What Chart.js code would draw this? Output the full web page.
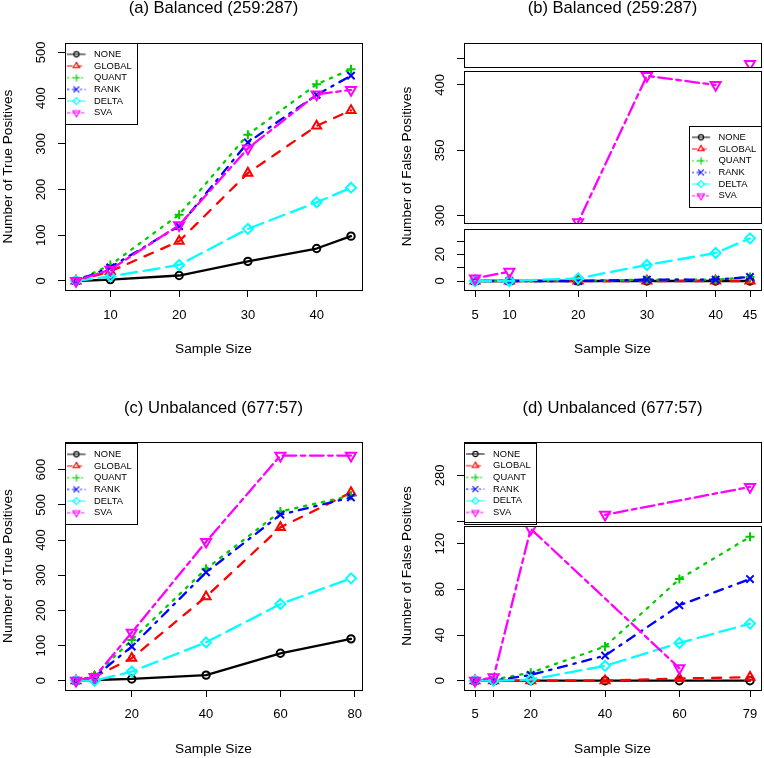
<!DOCTYPE html>
<html>
<head>
<meta charset="utf-8">
<title>True and false positives by sample size</title>
<script src="https://cdn.jsdelivr.net/npm/chart.js@4.4.1/dist/chart.umd.min.js"></script>
<style>
  body { margin: 0; background: #fff; }
  #page { position: relative; width: 764px; height: 758px; }
  #page canvas { position: absolute; }
</style>
</head>
<body>
<div id="page">
  <canvas id="panelA" width="382" height="379" style="left:0;top:0"></canvas>
  <canvas id="panelB" width="382" height="379" style="left:382px;top:0"></canvas>
  <canvas id="panelC" width="382" height="379" style="left:0;top:379px"></canvas>
  <canvas id="panelD" width="382" height="379" style="left:382px;top:379px"></canvas>
</div>
<script>
const methods = ['NONE', 'GLOBAL', 'QUANT', 'RANK', 'DELTA', 'SVA'];

const sizesBalanced = [5, 10, 20, 30, 40, 45];
const sizesUnbalanced = [5, 10, 20, 40, 60, 79];

// one row per method, same order as `methods`
const tpBalanced = [
  [0, 3, 12, 43, 71, 98],
  [0, 21, 87, 236, 339, 373],
  [0, 35, 145, 320, 430, 463],
  [0, 30, 120, 303, 407, 449],
  [0, 10, 35, 114, 172, 204],
  [0, 25, 122, 290, 408, 418]
];
const fpBalanced = [
  [0, 0, 0, 0, 0, 0],
  [0, 0, 0, 0, 0, 0],
  [0, 0, 0, 1, 1, 3],
  [0, 0, 0, 1, 1, 3],
  [0, 0, 2, 12, 21, 32],
  [2, 7, 295, 407, 400, 440]
];
const tpUnbalanced = [
  [0, 2, 5, 16, 78, 119],
  [0, 11, 64, 239, 436, 535],
  [0, 14, 116, 318, 481, 526],
  [0, 11, 97, 308, 472, 521],
  [0, 0, 26, 109, 218, 291],
  [0, 11, 137, 395, 640, 640]
];
const fpUnbalanced = [
  [0, 0, 0, 0, 0, 0],
  [0, 0, 0, 0, 2, 3],
  [0, 1, 7, 30, 89, 126],
  [0, 0, 5, 22, 66, 89],
  [0, 0, 1, 13, 33, 50],
  [0, 3, 133, 246, 11, 270]
];

const xTicksA = [10, 20, 30, 40];
const xTicksB = [5, 10, 20, 30, 40, 45];
const xTicksC = [20, 40, 60, 80];
const xTicksD = [5, 10, 20, 40, 60, 79];
const xLabelsD = ['5', '', '20', '40', '60', '79'];

const yTicksA = [[0, 100, 200, 300, 400, 500]];
const yLabelsA = [['0', '100', '200', '300', '400', '500']];
const yTicksC = [[0, 100, 200, 300, 400, 500, 600]];
const yLabelsC = [['0', '100', '200', '300', '400', '500', '600']];
// broken axes: top segment first
const yTicksB = [[450], [300, 350, 400], [0, 10, 20, 30]];
const yLabelsB = [[''], ['300', '350', '400'], ['0', '', '20', '']];
const yTicksD = [[240, 280], [0, 40, 80, 120]];
const yLabelsD = [['', '280'], ['0', '40', '80', '120']];

// R default palette, lty 1:6, pch 1:6
const colors = ['#000000', '#FF0000', '#00CD00', '#0000FF', '#00FFFF', '#FF00FF'];
const dashes = [[], [4, 4], [1, 3], [1, 3, 4, 3], [7, 3], [2, 2, 6, 2]];
const shapes = ['circle', 'triangle', 'cross', 'crossRot', 'rectRot', 'triangle'];
const rotations = [0, 0, 0, 0, 0, 180];
const radii = [3.7, 5.2, 4.5, 5.2, 5, 5.8];

const family = "'Liberation Sans', Arial, Helvetica, sans-serif";
const titleFont = {family, size: 16.6, lineHeight: 1, weight: 'normal'};
const labelFont = {family, size: 13.7};
const tickFont = {family, size: 13};
const legendFont = {family, size: 9.4};
Chart.defaults.font.family = family;

// plot-area bands (px from plot top) and the values at their edges
const segA = [{top: 0, bottom: 247, lo: -19.7, hi: 520.4}];
const segB = [
  {top: 0, bottom: 24.3, lo: 434.2, hi: 476.8},
  {top: 28, bottom: 180.3, lo: 294.2, hi: 410.7},
  {top: 186, bottom: 247, lo: -6.75, hi: 39}
];
const segC = [{top: 0, bottom: 248, lo: -26.4, hi: 678.7}];
const segD = [
  {top: 0, bottom: 80.3, lo: 239.5, hi: 308.7},
  {top: 84, bottom: 248, lo: -8.15, hi: 135.5}
];

const topRow = {titleH: 43, titlePad: {top: 0, bottom: 26.4}, xAxisH: 89, tickPad: 11, xTitlePad: 21.8};
const bottomRow = {titleH: 63, titlePad: {top: 21.5, bottom: 24.9}, xAxisH: 68, tickPad: 10, xTitlePad: 0.8};
const yAxisW = 65;

const tickGrid = {display: true, drawOnChartArea: false, drawTicks: true, tickLength: 7, color: '#000', lineWidth: 1};

// legend keys: short line in the series' lty with its symbol
const symbols = methods.map((_, m) => {
  const c = document.createElement('canvas');
  c.width = 22;
  c.height = 12;
  const g = c.getContext('2d');
  g.strokeStyle = colors[m];
  g.lineWidth = 1.14;
  g.lineCap = 'round';
  g.setLineDash(dashes[m].map(d => d * 1.14));
  g.beginPath();
  g.moveTo(0.5, 6);
  g.lineTo(17.8, 6);
  g.stroke();
  g.setLineDash([]);
  g.lineWidth = 1.1;
  g.fillStyle = 'rgba(0,0,0,0)';
  Chart.helpers.drawPoint(g, {pointStyle: shapes[m], rotation: rotations[m], radius: radii[m] * 0.7, borderWidth: 1.1}, 9.1, 6);
  return c;
});

// white gaps between the axis segments, then a box round each segment
const segmentsPlugin = {
  id: 'segments',
  afterLayout(chart) {
    // the extra y axes take no room in the layout; widen them back so their labels are not clipped
    const a = chart.chartArea;
    Object.values(chart.scales).forEach(s => {
      if (s.axis === 'y') s.left = Math.min(s.left, a.left - yAxisW);
    });
  },
  afterDatasetsDraw(chart, args, opts) {
    const {ctx, chartArea: a} = chart;
    const list = opts.list;
    ctx.save();
    ctx.fillStyle = '#fff';
    for (let k = 0; k + 1 < list.length; k++) {
      ctx.fillRect(a.left - 0.5, a.top + list[k].bottom, a.width + 1.5, list[k + 1].top - list[k].bottom);
    }
    ctx.strokeStyle = '#000';
    ctx.lineWidth = 1;
    const x0 = Math.round(a.left) + 0.5;
    const w = Math.round(a.right) - Math.round(a.left);
    list.forEach(seg => {
      const y0 = Math.round(a.top + seg.top) + 0.5;
      const y1 = Math.round(a.top + seg.bottom) + 0.5;
      ctx.strokeRect(x0, y0, w, y1 - y0);
    });
    ctx.restore();
  }
};

// put the legend where R puts it and draw its frame
const rLegendPlugin = {
  id: 'rlegend',
  afterLayout(chart, args, opts) {
    const lg = chart.legend;
    const a = chart.chartArea;
    const pad = 2.3;
    const w = pad + lg.columnSizes[0].width + 4.9;
    const x = opts.anchor === 'right' ? a.right - w : a.left;
    const y = a.top + opts.dy;
    lg.left = x;
    lg.right = x + w;
    lg.top = y + 11.3 - pad - legendFont.size / 2;
    lg.bottom = lg.top + 90;
    chart.$rbox = {x, y, w, h: 80.7};
  },
  afterDraw(chart) {
    const b = chart.$rbox;
    if (!b) return;
    const ctx = chart.ctx;
    ctx.save();
    ctx.strokeStyle = '#000';
    ctx.lineWidth = 1;
    ctx.strokeRect(Math.round(b.x) + 0.5, Math.round(b.y) + 0.5, Math.round(b.w), Math.round(b.h));
    ctx.restore();
  }
};

function makePanel(id, p) {
  const H = 379 - p.row.titleH - p.row.xAxisH;
  const scales = {
    x: {
      type: 'linear',
      min: p.xMin,
      max: p.xMax,
      afterBuildTicks: s => { s.ticks = p.xTicks.map(v => ({value: v})); },
      afterFit: s => { s.height = p.row.xAxisH; s.paddingLeft = 0; s.paddingRight = 0; },
      ticks: {
        autoSkip: false, minRotation: 0, maxRotation: 0, padding: p.row.tickPad,
        font: tickFont, color: '#000',
        callback: (v, i) => (p.xLabels ? p.xLabels[i] : String(p.xTicks[i]))
      },
      grid: tickGrid,
      border: {display: false},
      title: {display: true, text: 'Sample Size', font: labelFont, color: '#000', padding: {top: 0, bottom: p.row.xTitlePad}}
    }
  };

  p.segs.forEach((seg, k) => {
    const per = (seg.hi - seg.lo) / (seg.bottom - seg.top);
    const labels = p.yLabels[k];
    const digits = Math.max(...labels.map(l => l.length));
    scales['y' + k] = {
      type: 'linear',
      position: 'left',
      weight: k === 0 ? 1 : 0,
      min: seg.lo - (H - seg.bottom) * per,
      max: seg.hi + seg.top * per,
      afterBuildTicks: s => { s.ticks = p.yTicks[k].map(v => ({value: v})); },
      afterFit: s => { s.width = k === 0 ? yAxisW : 0; s.paddingTop = 0; s.paddingBottom = 0; },
      ticks: {
        autoSkip: false, minRotation: 90, maxRotation: 90, crossAlign: 'center',
        padding: 17 - digits * 0.556 * tickFont.size / 2,
        font: tickFont, color: '#000',
        callback: (v, i) => labels[i]
      },
      grid: tickGrid,
      border: {display: false},
      title: {display: k === 0, text: p.yTitle, font: labelFont, color: '#000', padding: 0}
    };
  });

  const datasets = [];
  p.series.forEach((vals, m) => {
    p.segs.forEach((seg, k) => {
      const pts = p.xs.map((x, i) => ({x, y: vals[i] >= seg.lo && vals[i] <= seg.hi ? vals[i] : null}));
      if (!pts.some(q => q.y !== null)) return;
      datasets.push({
        label: methods[m],
        data: pts,
        yAxisID: 'y' + k,
        order: methods.length - m,
        borderColor: colors[m],
        borderWidth: 2.3,
        borderDash: dashes[m].map(d => d * 2.28),
        borderCapStyle: 'round',
        borderJoinStyle: 'round',
        pointStyle: shapes[m],
        pointRotation: rotations[m],
        pointRadius: radii[m],
        pointBorderWidth: 2,
        pointBorderColor: colors[m],
        pointBackgroundColor: 'rgba(0,0,0,0)',
        spanGaps: true,
        tension: 0,
        fill: false
      });
    });
  });

  return new Chart(document.getElementById(id), {
    type: 'line',
    data: {datasets},
    options: {
      responsive: false,
      animation: false,
      events: [],
      layout: {autoPadding: false, padding: {left: p.padLeft, right: p.padRight, top: 0, bottom: 0}},
      scales,
      plugins: {
        title: {display: true, text: p.title, fullSize: false, font: titleFont, color: '#000', padding: p.row.titlePad},
        legend: {
          position: 'chartArea',
          align: 'start',
          labels: {
            usePointStyle: true,
            pointStyleWidth: 22.1,
            padding: 2.3,
            font: legendFont,
            color: '#000',
            generateLabels: () => methods.map((name, m) => ({
              text: name, pointStyle: symbols[m], fontColor: '#000', hidden: false,
              lineWidth: 0, strokeStyle: 'rgba(0,0,0,0)', fillStyle: 'rgba(0,0,0,0)', datasetIndex: m
            }))
          }
        },
        tooltip: {enabled: false},
        rlegend: p.legend,
        segments: {list: p.segs}
      }
    },
    plugins: [segmentsPlugin, rLegendPlugin]
  });
}

makePanel('panelA', {
  title: '(a) Balanced (259:287)', yTitle: 'Number of True Positives',
  xs: sizesBalanced, series: tpBalanced, xMin: 3.4, xMax: 46.6, xTicks: xTicksA,
  segs: segA, yTicks: yTicksA, yLabels: yLabelsA,
  padLeft: 0, padRight: 20, row: topRow, legend: {anchor: 'left', dy: 0}
});
makePanel('panelB', {
  title: '(b) Balanced (259:287)', yTitle: 'Number of False Positives',
  xs: sizesBalanced, series: fpBalanced, xMin: 3.4, xMax: 46.6, xTicks: xTicksB,
  segs: segB, yTicks: yTicksB, yLabels: yLabelsB,
  padLeft: 17, padRight: 3, row: topRow, legend: {anchor: 'right', dy: 83}
});
makePanel('panelC', {
  title: '(c) Unbalanced (677:57)', yTitle: 'Number of True Positives',
  xs: sizesUnbalanced, series: tpUnbalanced, xMin: 2.04, xMax: 81.96, xTicks: xTicksC,
  segs: segC, yTicks: yTicksC, yLabels: yLabelsC,
  padLeft: 0, padRight: 20, row: bottomRow, legend: {anchor: 'left', dy: 1}
});
makePanel('panelD', {
  title: '(d) Unbalanced (677:57)', yTitle: 'Number of False Positives',
  xs: sizesUnbalanced, series: fpUnbalanced, xMin: 2.04, xMax: 81.96, xTicks: xTicksD, xLabels: xLabelsD,
  segs: segD, yTicks: yTicksD, yLabels: yLabelsD,
  padLeft: 17, padRight: 3, row: bottomRow, legend: {anchor: 'left', dy: 0.7}
});
</script>
</body>
</html>
